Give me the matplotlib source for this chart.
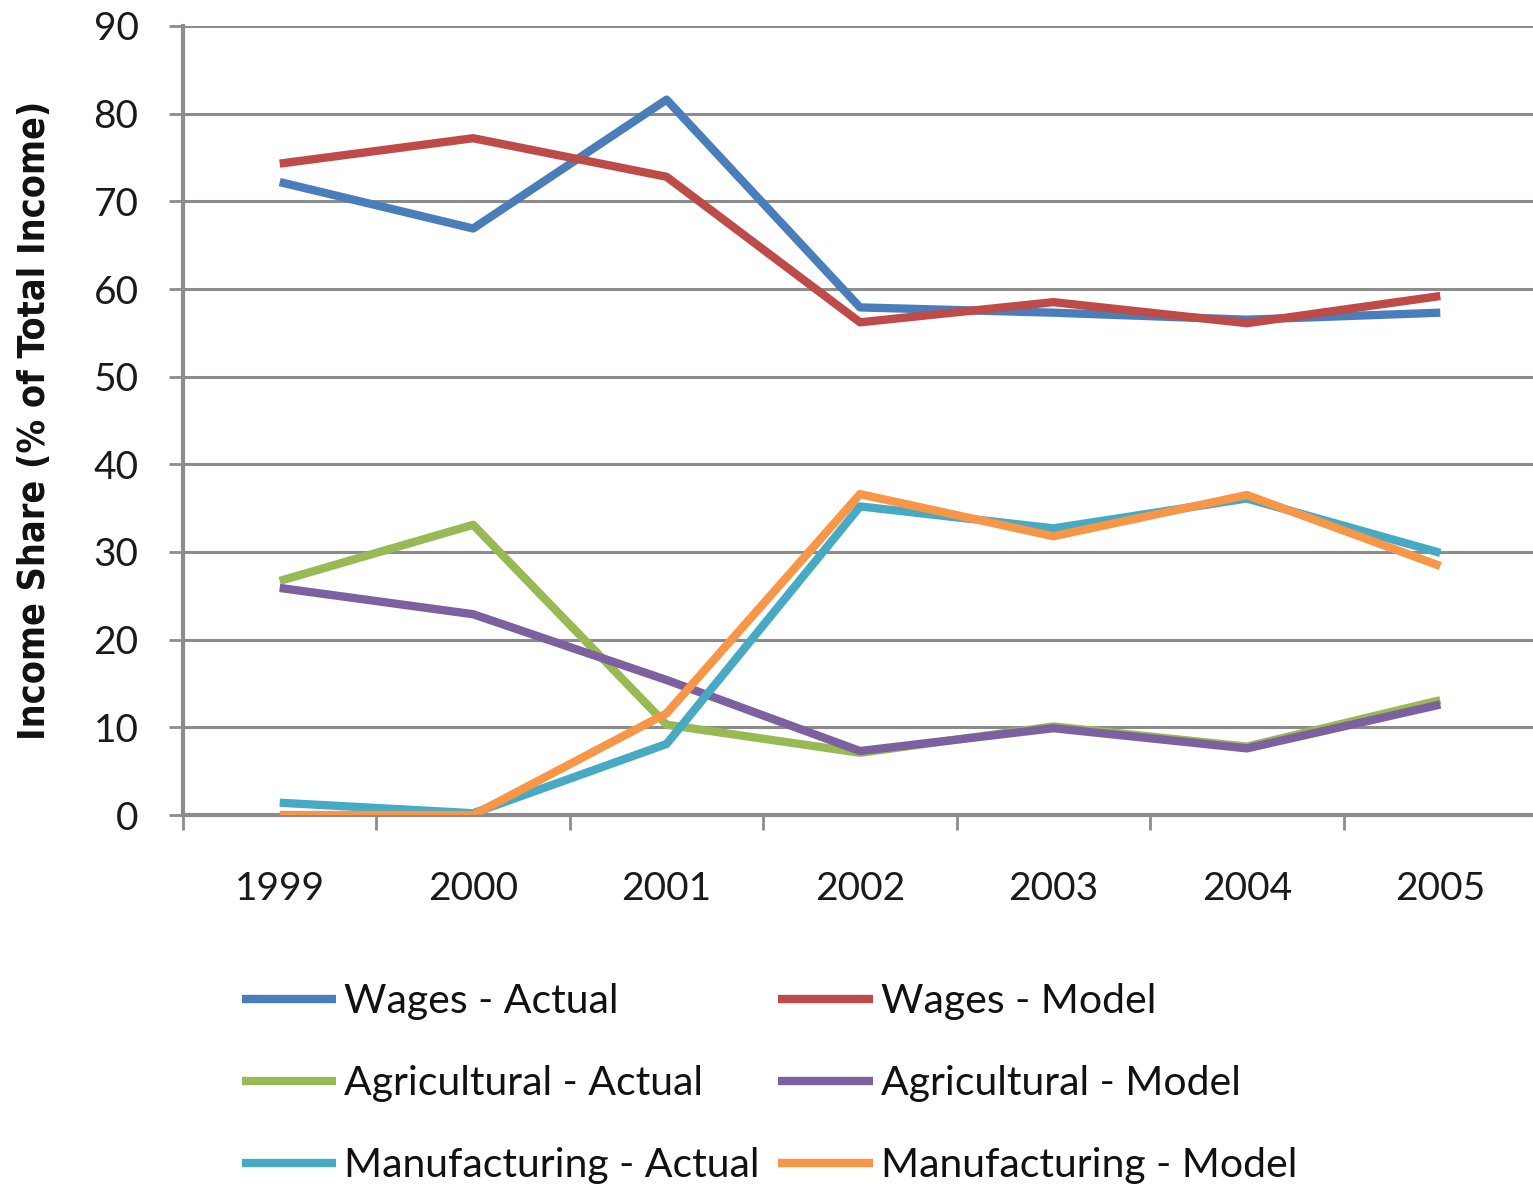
import matplotlib
matplotlib.use("Agg")
import matplotlib.pyplot as plt

years = ["1999", "2000", "2001", "2002", "2003", "2004", "2005"]

wages_actual = [72.2, 66.9, 81.6, 57.9, 57.3, 56.5, 57.3]
wages_model = [74.3, 77.2, 72.8, 56.2, 58.5, 56.1, 59.2]
agri_actual = [26.7, 33.1, 10.3, 7.1, 10.1, 7.8, 13.1]
agri_model = [25.9, 22.9, 15.4, 7.3, 9.9, 7.6, 12.6]
manuf_actual = [1.4, 0.2, 8.1, 35.2, 32.7, 36.1, 29.9]
manuf_model = [0.0, 0.0, 11.6, 36.6, 31.8, 36.5, 28.4]

series = [
    ("Wages - Actual", wages_actual, "#4a7ebb"),
    ("Wages - Model", wages_model, "#be4b48"),
    ("Agricultural - Actual", agri_actual, "#98b954"),
    ("Agricultural - Model", agri_model, "#7d60a0"),
    ("Manufacturing - Actual", manuf_actual, "#46aac5"),
    ("Manufacturing - Model", manuf_model, "#f79646"),
]

plt.rcParams["font.family"] = ["Lato", "DejaVu Sans"]

fig = plt.figure(figsize=(15.33, 11.87), dpi=100)
ax = fig.add_axes([183 / 1533, 1 - 815 / 1187, (1537 - 183) / 1533, (815 - 26) / 1187])

x = list(range(len(years)))
handles = {}
for label, vals, color in series:
    (h,) = ax.plot(x, vals, color=color, lw=6, solid_joinstyle="round",
                   solid_capstyle="butt", label=label, zorder=3)
    handles[label] = h

ax.set_xlim(-0.5, len(years) - 0.5)
ax.set_ylim(0, 90)
ax.set_yticks(range(0, 91, 10))
ax.set_xticks(x)
ax.set_xticklabels(years)
ax.set_xticks([i - 0.5 for i in range(len(years) + 1)], minor=True)

grid_color = "#8c8c8c"
ax.yaxis.grid(True, color=grid_color, lw=2.2, zorder=1)
ax.set_axisbelow(True)
for side in ("top", "right"):
    ax.spines[side].set_visible(False)
for side in ("left", "bottom"):
    ax.spines[side].set_color(grid_color)
    ax.spines[side].set_linewidth(3)

ax.tick_params(axis="y", which="major", direction="out", length=10, width=2,
               color=grid_color, labelsize=28, pad=22, labelcolor="#1a1a1a")
ax.tick_params(axis="x", which="major", length=0, labelsize=28, pad=40,
               labelcolor="#1a1a1a")
ax.tick_params(axis="x", which="minor", direction="out", length=11, width=2,
               color=grid_color)

fig.text(35 / 1533, 1 - 420 / 1187, "Income Share (% of Total Income)",
         rotation=90, ha="center", va="center", fontsize=27, fontweight="bold",
         fontstretch="condensed",
         family=["DejaVu Sans"], color="#111111")

order = ["Wages - Actual", "Agricultural - Actual", "Manufacturing - Actual",
         "Wages - Model", "Agricultural - Model", "Manufacturing - Model"]
leg = fig.legend([handles[k] for k in order], order, ncol=2,
                 loc="upper left", bbox_to_anchor=(242 / 1533, 1 - 983 / 1187),
                 frameon=False, fontsize=29.5, handlelength=2.3, handletextpad=0.2,
                 columnspacing=0.45, labelspacing=1.1, borderaxespad=0,
                 borderpad=0)
for t in leg.get_texts():
    t.set_color("#111111")

fig.savefig("out.png", dpi=100)
